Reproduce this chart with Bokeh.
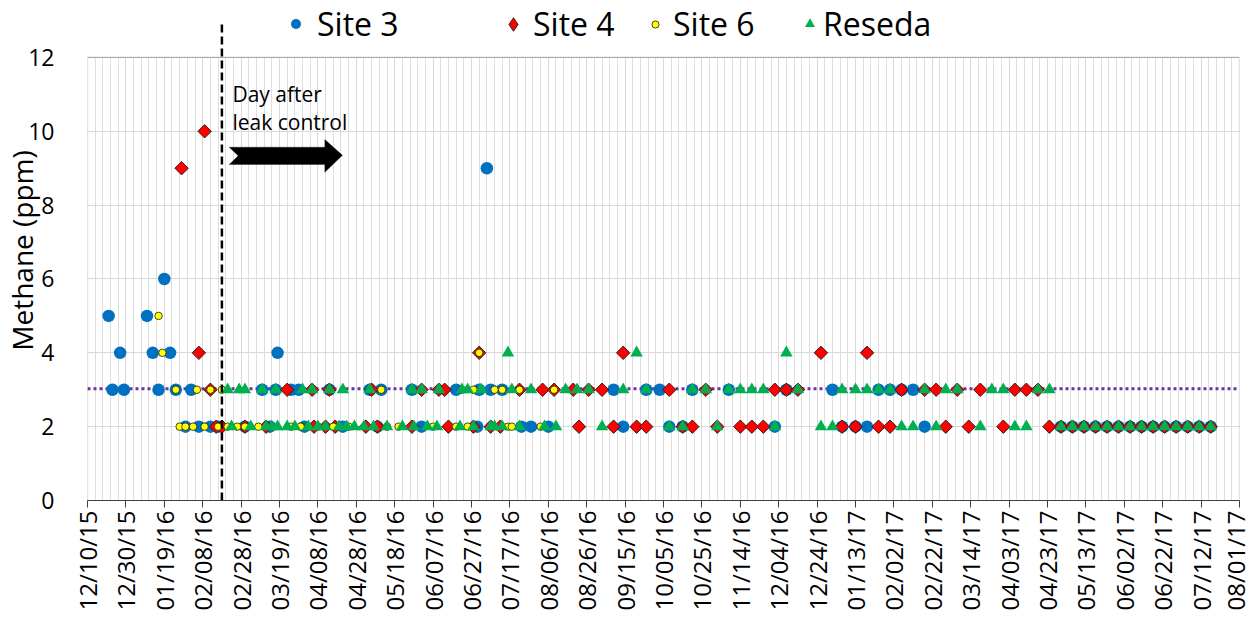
import pandas as pd
from math import pi
from bokeh.plotting import figure
from bokeh.models import (ColumnDataSource, FixedTicker, DatetimeTickFormatter, Legend, LegendItem,
                          Span, BoxAnnotation, PolyAnnotation, Label, Arrow, Range1d, CDSView, IndexFilter)
from bokeh.embed import file_html
from bokeh.resources import INLINE

FONT = "Open Sans"

# ---------------- data ----------------
site3_dates = ["2015-12-21", "2015-12-23", "2015-12-27", "2015-12-29", "2016-01-10", "2016-01-13",
               "2016-01-16", "2016-01-19", "2016-01-22", "2016-01-25", "2016-01-30", "2016-02-02",
               "2016-02-06", "2016-02-12", "2016-02-16", "2016-03-01", "2016-03-10", "2016-03-14",
               "2016-03-17", "2016-03-18", "2016-03-25", "2016-03-29", "2016-04-01", "2016-04-14",
               "2016-04-21", "2016-05-05", "2016-05-09", "2016-05-11", "2016-05-27", "2016-06-01",
               "2016-06-19", "2016-06-30", "2016-07-01", "2016-07-05", "2016-07-07", "2016-07-13",
               "2016-07-23", "2016-07-28", "2016-08-06", "2016-09-09", "2016-09-14", "2016-09-26",
               "2016-10-03", "2016-10-08", "2016-10-15", "2016-10-20", "2016-11-08", "2016-12-02",
               "2016-12-08", "2017-01-01", "2017-01-06", "2017-01-13", "2017-01-19", "2017-01-25",
               "2017-01-31", "2017-02-06", "2017-02-12", "2017-02-18", "2017-04-30", "2017-05-06",
               "2017-05-12", "2017-05-18", "2017-05-24", "2017-05-30", "2017-06-05", "2017-06-11",
               "2017-06-17", "2017-06-23", "2017-06-29", "2017-07-05", "2017-07-11", "2017-07-17"]
site3_ppm = [5, 3, 4, 3, 5, 4,
             3, 6, 4, 3, 2, 3,
             2, 2, 2, 2, 3, 2,
             3, 4, 3, 3, 2, 3,
             2, 3, 2, 3, 3, 2,
             3, 2, 3, 9, 3, 3,
             2, 2, 2, 3, 2, 3,
             3, 2, 2, 3, 3, 2,
             3, 3, 2, 2, 2, 3,
             3, 3, 3, 2, 2, 2,
             2, 2, 2, 2, 2, 2,
             2, 2, 2, 2, 2, 2]

site4_dates = ["2016-01-28", "2016-02-06", "2016-02-09", "2016-02-12", "2016-02-15", "2016-02-18",
               "2016-03-01", "2016-03-12", "2016-03-23", "2016-04-05", "2016-04-06", "2016-04-12",
               "2016-04-14", "2016-04-17", "2016-05-03", "2016-05-06", "2016-05-09", "2016-05-27",
               "2016-06-01", "2016-06-10", "2016-06-13", "2016-06-15", "2016-06-28", "2016-07-01",
               "2016-07-07", "2016-07-12", "2016-07-22", "2016-08-03", "2016-08-09", "2016-08-19",
               "2016-08-22", "2016-08-27", "2016-09-03", "2016-09-09", "2016-09-14", "2016-09-21",
               "2016-09-26", "2016-10-08", "2016-10-15", "2016-10-20", "2016-10-27", "2016-11-02",
               "2016-11-14", "2016-11-20", "2016-11-26", "2016-12-02", "2016-12-08", "2016-12-14",
               "2016-12-26", "2017-01-06", "2017-01-13", "2017-01-19", "2017-01-25", "2017-01-31",
               "2017-02-06", "2017-02-18", "2017-02-24", "2017-03-01", "2017-03-07", "2017-03-13",
               "2017-03-19", "2017-03-31", "2017-04-06", "2017-04-12", "2017-04-18", "2017-04-24",
               "2017-04-30", "2017-05-06", "2017-05-12", "2017-05-18", "2017-05-24", "2017-05-30",
               "2017-06-05", "2017-06-11", "2017-06-17", "2017-06-23", "2017-06-29", "2017-07-05",
               "2017-07-11", "2017-07-17"]
site4_ppm = [9, 4, 10, 3, 2, 2,
             2, 2, 3, 3, 2, 2,
             3, 2, 2, 3, 2, 2,
             3, 3, 3, 2, 2, 4,
             2, 2, 3, 3, 3, 3,
             2, 3, 3, 2, 4, 2,
             2, 3, 2, 2, 3, 2,
             2, 2, 2, 3, 3, 3,
             4, 2, 2, 4, 2, 2,
             3, 3, 3, 2, 3, 2,
             3, 2, 3, 3, 3, 2,
             2, 2, 2, 2, 2, 2,
             2, 2, 2, 2, 2, 2,
             2, 2]

site6_dates = ["2016-01-16", "2016-01-18", "2016-01-25", "2016-01-27", "2016-01-30", "2016-02-03",
               "2016-02-05", "2016-02-09", "2016-02-12", "2016-02-16", "2016-02-18", "2016-02-21",
               "2016-02-26", "2016-03-01", "2016-03-08", "2016-03-25", "2016-03-30", "2016-04-03",
               "2016-04-08", "2016-04-16", "2016-04-24", "2016-05-05", "2016-05-11", "2016-05-14",
               "2016-05-20", "2016-06-07", "2016-06-10", "2016-06-19", "2016-06-22", "2016-06-25",
               "2016-06-28", "2016-07-01", "2016-07-09", "2016-07-13", "2016-07-16", "2016-07-18",
               "2016-07-22", "2016-08-02", "2016-08-09"]
site6_ppm = [5, 4, 3, 2, 2, 2,
             3, 2, 3, 2, 3, 2,
             2, 2, 2, 2, 2, 2,
             2, 2, 2, 3, 3, 2,
             2, 2, 3, 2, 3, 2,
             3, 4, 3, 3, 2, 2,
             3, 2, 3]

reseda_dates = ["2016-02-21", "2016-02-23", "2016-02-27", "2016-03-01", "2016-03-04", "2016-03-10",
                "2016-03-12", "2016-03-15", "2016-03-17", "2016-03-18", "2016-03-23", "2016-03-27",
                "2016-03-31", "2016-04-03", "2016-04-05", "2016-04-08", "2016-04-12", "2016-04-14",
                "2016-04-19", "2016-04-21", "2016-04-23", "2016-04-27", "2016-05-02", "2016-05-05",
                "2016-05-07", "2016-05-14", "2016-05-22", "2016-05-27", "2016-05-28", "2016-06-01",
                "2016-06-04", "2016-06-09", "2016-06-10", "2016-06-21", "2016-06-22", "2016-06-25",
                "2016-06-28", "2016-07-02", "2016-07-07", "2016-07-09", "2016-07-13", "2016-07-16",
                "2016-07-18", "2016-07-22", "2016-07-28", "2016-08-04", "2016-08-10", "2016-08-15",
                "2016-08-21", "2016-08-27", "2016-09-03", "2016-09-14", "2016-09-21", "2016-09-26",
                "2016-10-08", "2016-10-15", "2016-10-20", "2016-10-27", "2016-11-02", "2016-11-08",
                "2016-11-14", "2016-11-20", "2016-11-26", "2016-12-02", "2016-12-08", "2016-12-14",
                "2016-12-26", "2017-01-01", "2017-01-06", "2017-01-13", "2017-01-19", "2017-01-25",
                "2017-01-31", "2017-02-06", "2017-02-12", "2017-02-18", "2017-02-24", "2017-03-01",
                "2017-03-07", "2017-03-19", "2017-03-25", "2017-03-31", "2017-04-06", "2017-04-12",
                "2017-04-18", "2017-04-24", "2017-04-30", "2017-05-06", "2017-05-12", "2017-05-18",
                "2017-05-24", "2017-05-30", "2017-06-05", "2017-06-11", "2017-06-17", "2017-06-23",
                "2017-06-29", "2017-07-05", "2017-07-11", "2017-07-17"]
reseda_ppm = [3, 2, 3, 3, 2, 3,
              2, 2, 3, 2, 2, 2,
              3, 2, 3, 2, 2, 3,
              2, 3, 2, 2, 2, 3,
              2, 2, 2, 3, 2, 3,
              2, 2, 3, 2, 3, 3,
              2, 3, 2, 2, 2, 4,
              3, 2, 3, 2, 2, 3,
              3, 3, 2, 3, 4, 3,
              2, 2, 3, 3, 2, 3,
              3, 3, 3, 2, 4, 3,
              2, 2, 3, 3, 3, 3,
              3, 2, 2, 3, 2, 3,
              3, 2, 3, 3, 2, 2,
              3, 3, 2, 2, 2, 2,
              2, 2, 2, 2, 2, 2,
              2, 2, 2, 2]

series_names = ["Site 3", "Site 4", "Site 6", "Reseda"]
x_start = "2015-12-10"
x_end = "2017-08-01"
leak_date = "2016-02-18"      # day after leak control
baseline_ppm = 3.03
y_ticks = [0, 2, 4, 6, 8, 10, 12]


def ms(d):
    return pd.Timestamp(d).value / 1e6


DAY = 86400000.0
major_ticks = [ms(t) for t in pd.date_range(x_start, x_end, freq="20D")]
minor_ticks = [ms(t) for t in pd.date_range(x_start, x_end, freq="4D")]

p = figure(x_axis_type="datetime", frame_width=1152, frame_height=500,
           x_range=Range1d(ms(x_start), ms(x_end)), y_range=Range1d(0, 13.543),
           output_backend="svg", toolbar_location=None,
           min_border_left=70, min_border_right=12, min_border_top=0, min_border_bottom=4)
p.outline_line_color = None
p.background_fill_color = "white"

# axes
p.xaxis.ticker = FixedTicker(ticks=major_ticks, minor_ticks=minor_ticks)
fmt = "%m/%d/%y"
p.xaxis.formatter = DatetimeTickFormatter(days=fmt, months=fmt, years=fmt, hours=fmt,
                                          minutes=fmt, seconds=fmt, milliseconds=fmt,
                                          microseconds=fmt, minsec=fmt, hourmin=fmt)
p.xaxis.major_label_orientation = pi / 2
p.xaxis.major_label_text_font = FONT
p.xaxis.major_label_text_font_size = "24px"
p.xaxis.major_label_text_color = "#000000"
p.xaxis.major_label_standoff = 3
p.xaxis.major_tick_out = 7
p.xaxis.major_tick_in = 0
p.xaxis.major_tick_line_color = "#404040"
p.xaxis.minor_tick_line_color = None
p.xaxis.axis_line_color = "#404040"

p.yaxis.ticker = FixedTicker(ticks=y_ticks)
p.yaxis.major_label_text_font = FONT
p.yaxis.major_label_text_font_size = "23px"
p.yaxis.major_label_text_color = "#000000"
p.yaxis.major_label_standoff = 27
p.yaxis.major_tick_line_color = None
p.yaxis.minor_tick_line_color = None
p.yaxis.axis_line_color = None
p.yaxis.axis_label = "Methane (ppm)"
p.yaxis.axis_label_text_font = FONT
p.yaxis.axis_label_text_font_size = "28px"
p.yaxis.axis_label_text_font_style = "normal"
p.yaxis.axis_label_text_color = "#000000"
p.yaxis.axis_label_standoff = -16

# grids
p.xgrid.grid_line_color = "#d9d9d9"
p.xgrid.minor_grid_line_color = "#dedede"
p.ygrid.grid_line_color = "#d9d9d9"
try:
    p.xgrid.cross_bounds = (0, 12)
except Exception:
    pass

# plot-area frame (0..12)
p.add_layout(BoxAnnotation(left=ms(x_start), right=ms(x_end), bottom=0, top=12,
                           fill_alpha=0, line_color="#404040", line_width=1.2))

# baseline dotted line
p.add_layout(Span(location=baseline_ppm, dimension="width", line_color="#7030A0",
                  line_width=3, line_dash="3 3", level="underlay"))

# series
def src(d, v):
    return ColumnDataSource(dict(x=pd.to_datetime(d), y=v))

src3 = src(site3_dates, site3_ppm)
src4 = src(site4_dates, site4_ppm)
src6 = src(site6_dates, site6_ppm)
srcR = src(reseda_dates, reseda_ppm)

r3 = p.scatter("x", "y", source=src3, marker="circle", size=12.5,
               fill_color="#0070C0", line_color=None)
# legend proxy for the diamond (drawn underneath the real diamond of the first point)
r4_leg = p.scatter("x", "y", source=src4, view=CDSView(filter=IndexFilter(indices=[0])),
                   marker="diamond", size=6, fill_color="#FF0000", line_color="#1a1a1a",
                   line_width=0.9)
r4 = p.scatter("x", "y", source=src4, marker="square", angle=pi / 4,
               size=9.5, fill_color="#FF0000", line_color="#1a1a1a", line_width=0.9)
r6 = p.scatter("x", "y", source=src6, marker="circle", size=7.5,
               fill_color="#FFFF00", line_color="#1a1a1a", line_width=0.8)
rR = p.scatter("x", "y", source=srcR, marker="triangle", size=12.5,
               fill_color="#00B050", line_color=None)

# leak-control dashed line
p.add_layout(Arrow(end=None, x_start=ms(leak_date), y_start=0, x_end=ms(leak_date), y_end=12.98,
                   line_color="#000000", line_width=2.5, line_dash="8 4"))

# block arrow
L = ms(leak_date)
ax = [L + 3.8 * DAY, L + 53.6 * DAY, L + 53.6 * DAY, L + 62.8 * DAY, L + 53.6 * DAY, L + 53.6 * DAY,
      L + 3.8 * DAY, L + 8.5 * DAY]
ay = [9.57, 9.57, 9.78, 9.35, 8.89, 9.10, 9.10, 9.335]
p.add_layout(PolyAnnotation(xs=ax, ys=ay, fill_color="#000000", fill_alpha=1, line_color="#000000"))

for txt, yy in [("Day after", 11.0), ("leak control", 10.25)]:
    p.add_layout(Label(x=L + 5.5 * DAY, y=yy, text=txt, text_font=FONT, text_font_size="21px",
                       text_color="#000000", text_baseline="alphabetic", text_align="left"))

# legend (four single-item legends placed like the original)
leg_specs = [(series_names[0], r3, 196, 25, 9),
             (series_names[1], r4_leg, 409, 34, 3),
             (series_names[2], r6, 559, 18, 9),
             (series_names[3], rR, 710, 25, 1)]
for name, r, lx, gs, so in leg_specs:
    leg = Legend(items=[LegendItem(label=name, renderers=[r])], location=(lx, 455),
                 orientation="horizontal", label_text_font=FONT, label_text_font_size="32px",
                 label_text_color="#000000", glyph_width=gs, glyph_height=gs, label_standoff=so,
                 padding=0, margin=0, spacing=0, border_line_color=None, background_fill_alpha=0)
    p.add_layout(leg)

open("out.html", "w").write(file_html(p, INLINE))
